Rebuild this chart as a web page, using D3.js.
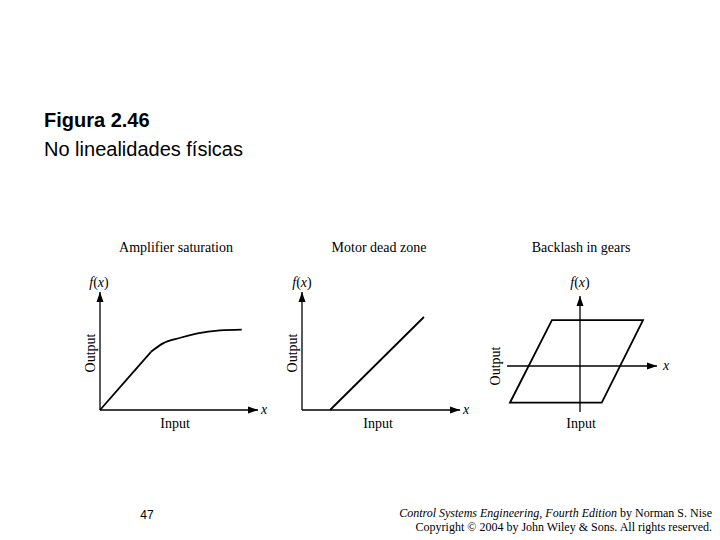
<!DOCTYPE html>
<html><head><meta charset="utf-8">
<script src="https://cdn.jsdelivr.net/npm/d3@7"></script>
<style>body{margin:0;background:#fff}</style></head>
<body><svg id="c" width="720" height="540"></svg>
<script>
// data, in axis units
const titles = ["Amplifier saturation", "Motor dead zone", "Backlash in gears"];
const saturation = [[0,0],[3.4,4.85],[4.2,5.55],[5.3,6.0],[6.5,6.38],[8,6.63],[9.45,6.7]];
const deadZone = [[1.87,0],[8.13,7.75]];
const backlash = [[-1.87,3.83],[4.2,3.83],[1.45,-3.06],[-4.67,-3.06]];

const svg = d3.select("#c");
const serif = "'Liberation Serif','DejaVu Serif',serif";
const sans = "'Liberation Sans',Arial,sans-serif";

svg.append("defs").append("marker").attr("id","ar").attr("viewBox","0 0 10 10")
  .attr("refX",10).attr("refY",5).attr("markerWidth",10).attr("markerHeight",10)
  .attr("markerUnits","userSpaceOnUse").attr("orient","auto")
  .append("path").attr("d","M0,1.5L10,5L0,8.5Z").attr("fill","#000");

svg.append("text").attr("x",44).attr("y",127).attr("font-family",sans).attr("font-size",20)
  .attr("font-weight","bold").text("Figura 2.46");
svg.append("text").attr("x",44).attr("y",156).attr("font-family",sans).attr("font-size",20)
  .text("No linealidades físicas");

function axisLine(x1,y1,x2,y2,arrow){
  svg.append("line").attr("x1",x1).attr("y1",y1).attr("x2",x2).attr("y2",y2)
    .attr("stroke","#000").attr("stroke-width",1.3).attr("marker-end",arrow?"url(#ar)":null);
}
function label(x,y,t,opt){
  opt=opt||{};
  const e=svg.append("text").attr("x",x).attr("y",y).attr("font-family",serif).attr("font-size",14)
    .attr("text-anchor",opt.anchor||"middle").attr("font-style",opt.italic?"italic":null).text(t);
  if(opt.rot) e.attr("transform","rotate(-90,"+x+","+y+")");
  return e;
}
function fx(x,y){
  const t=svg.append("text").attr("x",x).attr("y",y).attr("font-family",serif).attr("font-size",14).attr("text-anchor","middle");
  t.append("tspan").attr("font-style","italic").text("f");
  t.append("tspan").text("(");
  t.append("tspan").attr("font-style","italic").text("x");
  t.append("tspan").text(")");
}
function stroke(d){
  svg.append("path").attr("d",d).attr("fill","none").attr("stroke","#000").attr("stroke-width",1.8);
}

// panel 1
{
  const x=d3.scaleLinear().domain([0,10]).range([100,250]);
  const y=d3.scaleLinear().domain([0,10]).range([410,290]);
  axisLine(x(0),y(0),x(0),292,true); axisLine(x(0),y(0),258,y(0),true);
  stroke(d3.line().x(d=>x(d[0])).y(d=>y(d[1]))(saturation.slice(0,2)));
  stroke(d3.line().curve(d3.curveMonotoneX).x(d=>x(d[0])).y(d=>y(d[1]))(saturation.slice(1)));
  label(176,252,titles[0]); fx(99,287); label(264,414,"x",{italic:true});
  label(175,428,"Input"); label(95,353,"Output",{rot:true});
}
// panel 2
{
  const x=d3.scaleLinear().domain([0,10]).range([302,452]);
  const y=d3.scaleLinear().domain([0,10]).range([410,290]);
  axisLine(x(0),y(0),x(0),292,true); axisLine(x(0),y(0),460,y(0),true);
  stroke(d3.line().x(d=>x(d[0])).y(d=>y(d[1]))(deadZone));
  label(379,252,titles[1]); fx(302,287); label(466,414,"x",{italic:true});
  label(378,428,"Input"); label(297,353,"Output",{rot:true});
}
// panel 3
{
  const x=d3.scaleLinear().domain([-5,5]).range([505,655]);
  const y=d3.scaleLinear().domain([-5,5]).range([426,306]);
  axisLine(x(0),412,x(0),296,true); axisLine(507,y(0),657,y(0),true);
  stroke(d3.line().x(d=>x(d[0])).y(d=>y(d[1]))(backlash)+"Z");
  label(581,252,titles[2]); fx(580,287); label(666,370,"x",{italic:true});
  label(581,428,"Input"); label(500,366,"Output",{rot:true});
}

svg.append("text").attr("x",147).attr("y",519).attr("font-family",sans).attr("font-size",12)
  .attr("text-anchor","middle").text("47");
const f1=svg.append("text").attr("x",712).attr("y",517).attr("font-family",serif).attr("font-size",12).attr("text-anchor","end");
f1.append("tspan").attr("font-style","italic").text("Control Systems Engineering, Fourth Edition");
f1.append("tspan").text(" by Norman S. Nise");
svg.append("text").attr("x",712).attr("y",531).attr("font-family",serif).attr("font-size",12).attr("text-anchor","end")
  .text("Copyright © 2004 by John Wiley & Sons. All rights reserved.");
</script></body></html>
